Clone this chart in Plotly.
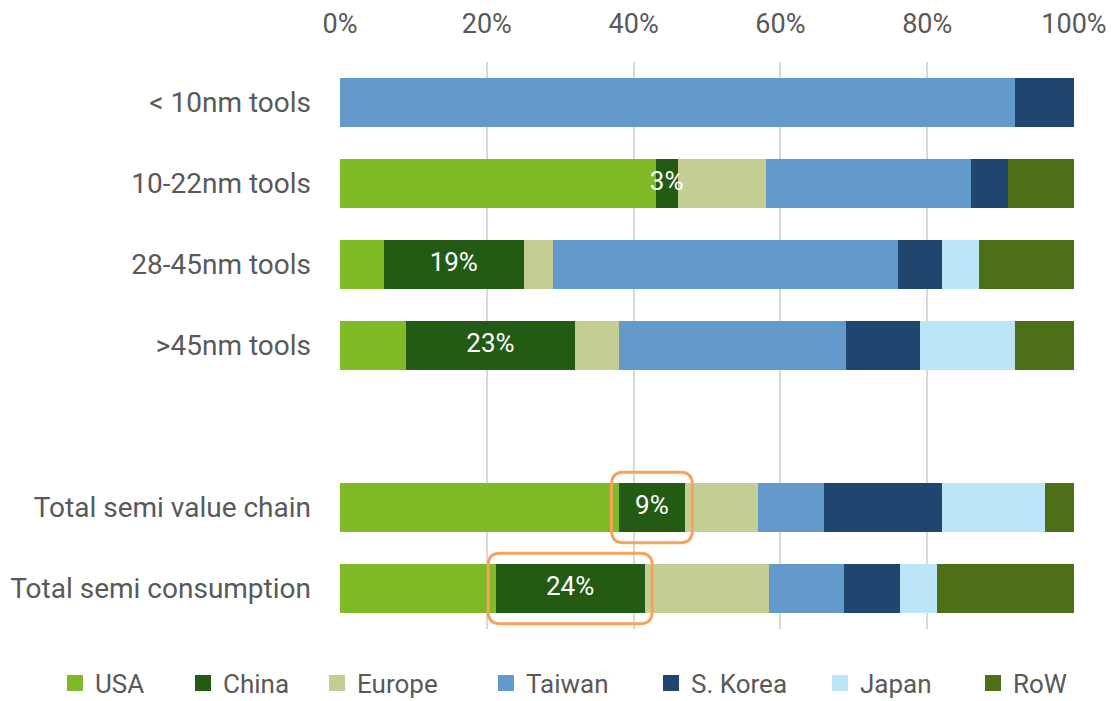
import plotly.graph_objects as go

# Rows, top to bottom (the blank row separates tool segments from totals)
categories = ["< 10nm tools", "10-22nm tools", "28-45nm tools", ">45nm tools", " ",
              "Total semi value chain", "Total semi consumption"]

regions = ["USA", "China", "Europe", "Taiwan", "S. Korea", "Japan", "RoW"]

usa = [0, 43, 6, 9, None, 38, 25]
china = [0, 3, 19, 23, None, 9, 24]
europe = [0, 12, 4, 6, None, 10, 20]
taiwan = [92, 28, 47, 31, None, 9, 12]
s_korea = [8, 5, 6, 10, None, 16, 9]
japan = [0, 0, 5, 13, None, 14, 6]
row = [0, 9, 13, 8, None, 4, 22]

series = [usa, china, europe, taiwan, s_korea, japan, row]
colors = ["#80BA27", "#235B14", "#C4CD94", "#6499CB", "#20456F", "#BDE5F8", "#4D6F18"]

# Rows whose China segment gets an orange highlight box
highlight_rows = ["Total semi value chain", "Total semi consumption"]

FONT = "Roboto"
GREY = "#595959"
W, H = 1111, 701


def row_total(i):
    return sum(s[i] for s in series)


fig = go.Figure()
for name, vals, col in zip(regions, series, colors):
    fig.add_trace(go.Bar(
        y=categories, x=vals, name=name, orientation="h",
        marker=dict(color=col, line=dict(width=0)),
        showlegend=False, hoverinfo="skip",
    ))

# China share labels, centred on the China segment and drawn above all bars
lab_x, lab_y, lab_t = [], [], []
for i, cat in enumerate(categories):
    if china[i]:
        lab_x.append((usa[i] + china[i] / 2) / row_total(i) * 100)
        lab_y.append(cat)
        lab_t.append(f"{china[i]}%")
fig.add_trace(go.Scatter(
    x=lab_x, y=lab_y, text=lab_t, mode="text", textposition="middle center",
    textfont=dict(family=FONT, size=26, color="white"),
    showlegend=False, hoverinfo="skip", cliponaxis=False,
))

# Legend entries, each in its own legend so they sit at fixed spacing
legend_centers = [77, 205, 339, 508, 673, 842, 995]
for i, (name, col) in enumerate(zip(regions, colors)):
    key = "legend" if i == 0 else f"legend{i + 1}"
    fig.add_trace(go.Scatter(
        x=[None], y=[None], mode="markers", name=name,
        marker=dict(symbol="square", size=16, color=col),
        legend=key, showlegend=True, hoverinfo="skip",
    ))
    fig.update_layout({key: dict(
        x=(legend_centers[i] - 22) / W, xref="container", xanchor="left",
        y=1 - 683 / H, yref="container", yanchor="middle",
        orientation="h", bgcolor="rgba(0,0,0,0)",
        font=dict(family=FONT, size=26, color=GREY),
        itemclick=False, itemdoubleclick=False,
    )})

# Rounded orange boxes around the highlighted China segments
pad_x, pad_y = 1.0, 0.125
rx, ry = 1.6, 0.15
for cat in highlight_rows:
    idx = categories.index(cat)
    total = row_total(idx)
    x0 = usa[idx] / total * 100 - pad_x
    x1 = (usa[idx] + china[idx]) / total * 100 + pad_x
    y0 = idx - 0.31 - pad_y
    y1 = idx + 0.31 + pad_y
    path = (f"M {x0 + rx},{y0} L {x1 - rx},{y0} Q {x1},{y0} {x1},{y0 + ry} "
            f"L {x1},{y1 - ry} Q {x1},{y1} {x1 - rx},{y1} "
            f"L {x0 + rx},{y1} Q {x0},{y1} {x0},{y1 - ry} "
            f"L {x0},{y0 + ry} Q {x0},{y0} {x0 + rx},{y0} Z")
    fig.add_shape(type="path", path=path, xref="x", yref="y",
                  line=dict(color="#F7A35C", width=3), layer="above")

fig.update_layout(
    width=W, height=H,
    margin=dict(l=340, r=37, t=62, b=72, autoexpand=False),
    barmode="stack", barnorm="percent", bargap=0.383,
    plot_bgcolor="white", paper_bgcolor="white",
    font=dict(family=FONT, size=27, color=GREY),
    xaxis=dict(
        side="top", range=[0, 100], dtick=20, ticksuffix="%",
        showgrid=True, gridcolor="#D9D9D9", gridwidth=1.5,
        zeroline=False, showline=False, ticks="", automargin=False,
        ticklabelstandoff=23,
        tickfont=dict(family=FONT, size=27, color=GREY),
    ),
    yaxis=dict(
        type="category", categoryorder="array", categoryarray=categories,
        autorange="reversed", showgrid=False, zeroline=False, showline=False,
        ticks="", ticklabelstandoff=28, automargin=False,
        tickfont=dict(family=FONT, size=28, color=GREY),
    ),
)

fig.write_html("out.html")
